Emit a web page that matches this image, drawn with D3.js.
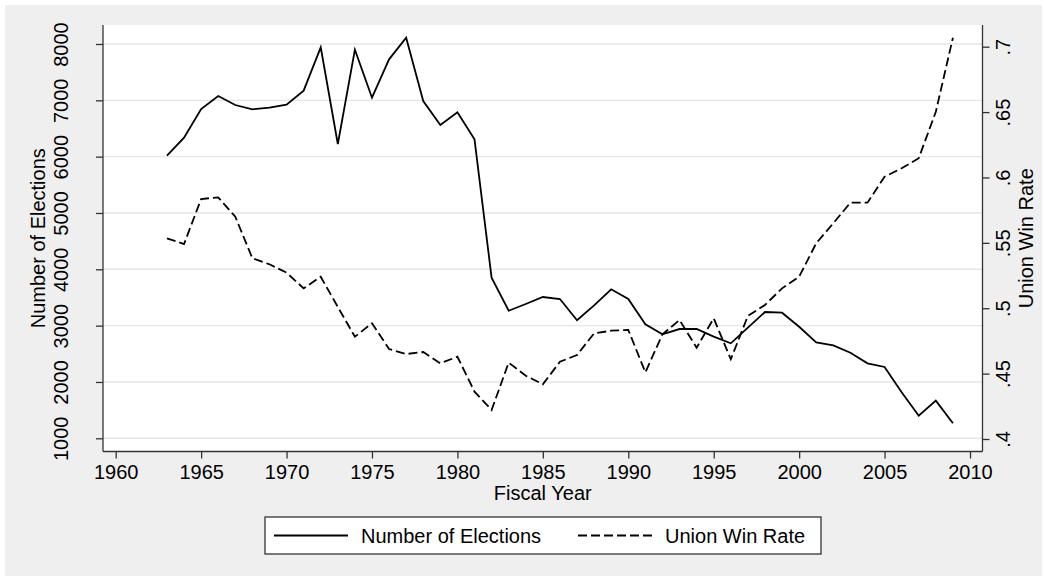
<!DOCTYPE html>
<html>
<head>
<meta charset="utf-8">
<script src="https://cdn.jsdelivr.net/npm/d3@7"></script>
<style>
  body { margin: 0; background: #fff; }
  text { font-family: "Liberation Sans", Arial, Helvetica, sans-serif; fill: #000; }
</style>
</head>
<body>
<div class="chart"></div>
<script>
// data
const years = [1963, 1964, 1965, 1966, 1967, 1968, 1969, 1970, 1971, 1972,
  1973, 1974, 1975, 1976, 1977, 1978, 1979, 1980, 1981, 1982,
  1983, 1984, 1985, 1986, 1987, 1988, 1989, 1990, 1991, 1992,
  1993, 1994, 1995, 1996, 1997, 1998, 1999, 2000, 2001, 2002,
  2003, 2004, 2005, 2006, 2007, 2008, 2009];
const elections = [6017, 6336, 6846, 7077, 6917, 6841, 6869, 6922, 7171, 7941,
  6225, 7899, 7047, 7728, 8112, 6988, 6562, 6787, 6308, 3851,
  3265, 3384, 3508, 3473, 3095, 3361, 3645, 3473, 3024, 2846,
  2940, 2940, 2804, 2686, 2964, 3242, 3230, 2981, 2704, 2651,
  2520, 2331, 2266, 1817, 1401, 1668, 1266];
const winRate = [.5535, .5491, .5835, .5848, .5700, .5382, .5336, .5272, .5152, .5241,
  .501, .4782, .4885, .4688, .465, .4665, .4579, .4629, .4362, .4222,
  .4584, .4484, .4418, .4591, .4642, .4808, .4828, .4834, .451, .4801,
  .491, .4698, .4923, .461, .4941, .5025, .5152, .5241, .5497, .565,
  .5807, .5807, .6006, .607, .6147, .6503, .7069];
const xTicks = [1960, 1965, 1970, 1975, 1980, 1985, 1990, 1995, 2000, 2005, 2010];
const leftTicks = [1000, 2000, 3000, 4000, 5000, 6000, 7000, 8000];
const rightTicks = [.4, .45, .5, .55, .6, .65, .7];
const rightLabels = [".4", ".45", ".5", ".55", ".6", ".65", ".7"];
const seriesNames = ["Number of Elections", "Union Win Rate"];

const W = 1045, H = 579;
const plotBox = {left: 103, right: 982.5, top: 25, bottom: 451.5};
const fontSize = "20px";

const svg = d3.select('.chart').append('svg')
  .attr("width", W)
  .attr("height", H);

// outer grey panel
svg.append("rect")
  .attr("x", 5).attr("y", 5)
  .attr("width", W - 8).attr("height", H - 8)
  .attr("fill", "#efefef");

// plot area
svg.append("rect")
  .attr("x", plotBox.left).attr("y", plotBox.top)
  .attr("width", plotBox.right - plotBox.left)
  .attr("height", plotBox.bottom - plotBox.top)
  .attr("fill", "#fff");

const xScale = d3.scaleLinear().domain([1960, 2010]).range([115.7, 970]);
const yLeft = d3.scaleLinear().domain([1000, 8000]).range([438.3, 44]);
const yRight = d3.scaleLinear().domain([.4, .7]).range([439, 46.7]);

// gridlines
svg.append("g")
  .selectAll("line")
  .data(leftTicks)
  .enter().append("line")
  .attr("x1", plotBox.left).attr("x2", plotBox.right)
  .attr("y1", d => yLeft(d)).attr("y2", d => yLeft(d))
  .attr("stroke", "#e6e6e6")
  .attr("stroke-width", 1.4);

// axes
const xAxis = d3.axisBottom(xScale).tickValues(xTicks).tickFormat(d3.format("d")).tickSize(7).tickSizeOuter(0);
const leftAxis = d3.axisLeft(yLeft).tickValues(leftTicks).tickFormat(d3.format("d")).tickSize(7).tickSizeOuter(0);
const rightAxis = d3.axisRight(yRight).tickValues(rightTicks).tickFormat((d, i) => rightLabels[i]).tickSize(7).tickSizeOuter(0);

const gx = svg.append("g")
  .attr("class", "axis x-axis")
  .attr("transform", `translate(0, ${plotBox.bottom})`)
  .call(xAxis);
gx.selectAll("text")
  .attr("y", 27.5).attr("dy", 0)
  .attr("font-size", fontSize);

const gl = svg.append("g")
  .attr("class", "axis y-axis")
  .attr("transform", `translate(${plotBox.left}, 0)`)
  .call(leftAxis);
gl.selectAll("text")
  .attr("x", 0).attr("dy", 0)
  .attr("text-anchor", "middle")
  .attr("transform", "translate(-35,0) rotate(-90)")
  .attr("font-size", fontSize);

const gr = svg.append("g")
  .attr("class", "axis y-axis-right")
  .attr("transform", `translate(${plotBox.right}, 0)`)
  .call(rightAxis);
gr.selectAll("text")
  .attr("x", 0).attr("dy", 0)
  .attr("text-anchor", "middle")
  .attr("transform", "translate(27.5,0) rotate(-90)")
  .attr("font-size", fontSize);

svg.selectAll(".axis .domain").remove();
svg.selectAll(".axis line").attr("stroke", "#333").attr("stroke-width", 1.3);
svg.selectAll(".axis text").attr("fill", "#000").attr("font-family", null);

// axis frame lines
const frame = svg.append("g").attr("stroke", "#333").attr("stroke-width", 1.3);
frame.append("line").attr("x1", plotBox.left).attr("x2", plotBox.left).attr("y1", plotBox.top).attr("y2", plotBox.bottom);
frame.append("line").attr("x1", plotBox.right).attr("x2", plotBox.right).attr("y1", plotBox.top).attr("y2", plotBox.bottom);
frame.append("line").attr("x1", plotBox.left).attr("x2", plotBox.right).attr("y1", plotBox.bottom).attr("y2", plotBox.bottom);

// axis titles
const midY = (plotBox.top + plotBox.bottom) / 2;
svg.append("text")
  .attr("transform", `translate(45, ${midY}) rotate(-90)`)
  .attr("text-anchor", "middle")
  .attr("font-size", fontSize)
  .text("Number of Elections");
svg.append("text")
  .attr("transform", `translate(1033, ${midY}) rotate(-90)`)
  .attr("text-anchor", "middle")
  .attr("font-size", fontSize)
  .text("Union Win Rate");
svg.append("text")
  .attr("x", (plotBox.left + plotBox.right) / 2)
  .attr("y", 500)
  .attr("text-anchor", "middle")
  .attr("font-size", fontSize)
  .text("Fiscal Year");

// lines
const lineElections = d3.line()
  .x((d, i) => xScale(years[i]))
  .y(d => yLeft(d));
const lineRate = d3.line()
  .x((d, i) => xScale(years[i]))
  .y(d => yRight(d));

svg.append("path")
  .datum(elections)
  .attr("d", lineElections)
  .attr("fill", "none")
  .attr("stroke", "#000")
  .attr("stroke-width", 1.8)
  .attr("stroke-linejoin", "miter");

svg.append("path")
  .datum(winRate)
  .attr("d", lineRate)
  .attr("fill", "none")
  .attr("stroke", "#000")
  .attr("stroke-width", 1.8)
  .attr("stroke-dasharray", "9,4");

// legend
const legend = svg.append("g").attr("transform", "translate(265, 517)");
legend.append("rect")
  .attr("width", 556).attr("height", 37)
  .attr("fill", "#fff")
  .attr("stroke", "#333")
  .attr("stroke-width", 1.3);
const items = [
  {name: seriesNames[0], x: 9, dash: null},
  {name: seriesNames[1], x: 313, dash: "9,4"}
];
items.forEach(it => {
  legend.append("line")
    .attr("x1", it.x).attr("x2", it.x + 74)
    .attr("y1", 18.5).attr("y2", 18.5)
    .attr("stroke", "#000")
    .attr("stroke-width", 1.8)
    .attr("stroke-dasharray", it.dash);
  legend.append("text")
    .attr("x", it.x + 87)
    .attr("y", 25.5)
    .attr("font-size", fontSize)
    .text(it.name);
});
</script>
</body>
</html>
